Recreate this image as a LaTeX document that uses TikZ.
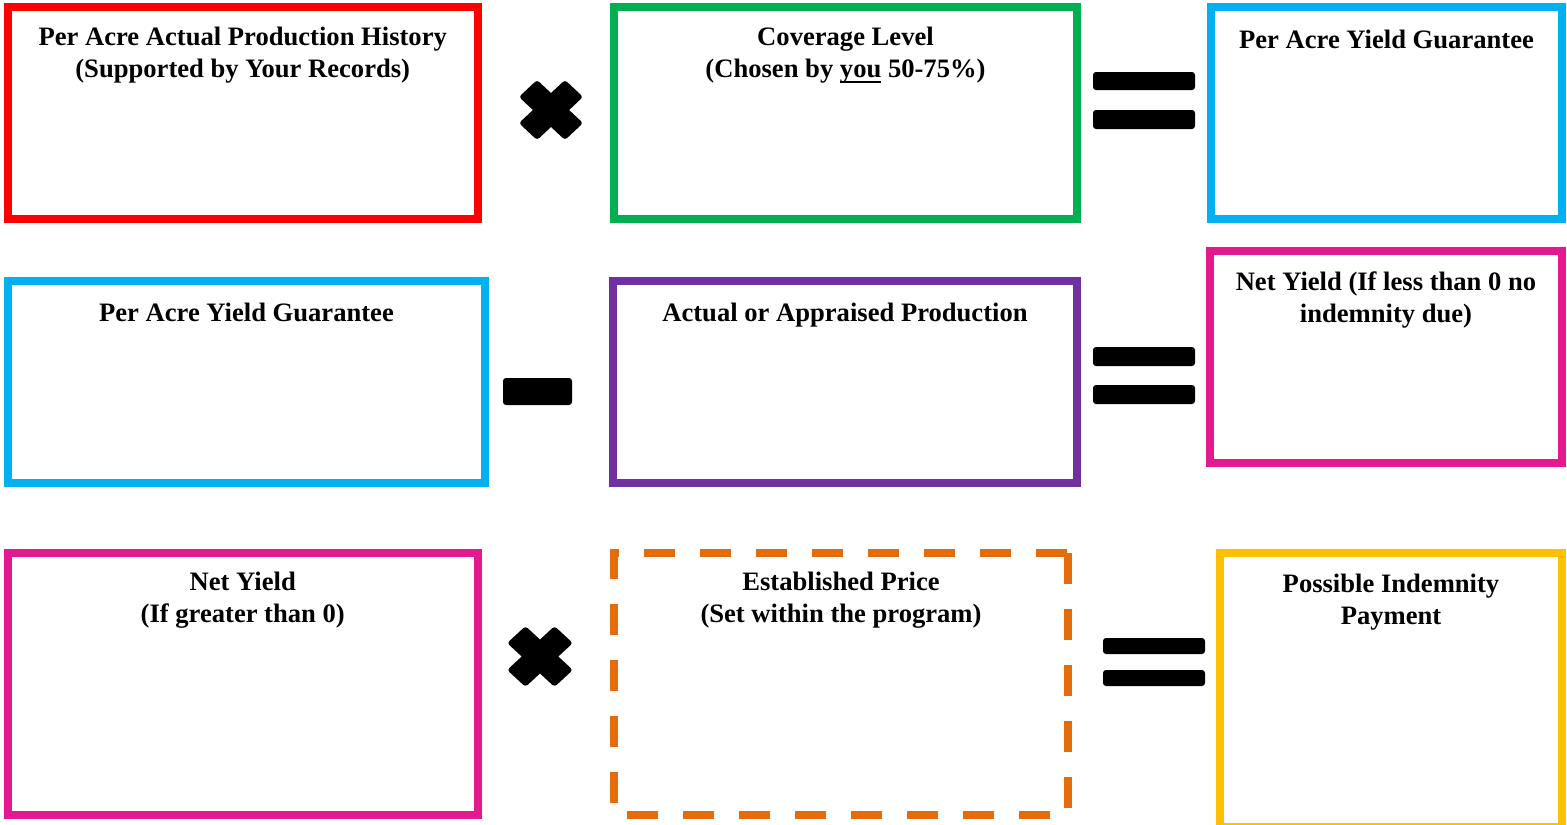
\documentclass[tikz,border=0pt]{standalone}
\usepackage{fontspec}
\setmainfont{Liberation Serif}
\definecolor{cred}{HTML}{FF0000}
\definecolor{cgreen}{HTML}{00B050}
\definecolor{ccyan}{HTML}{00B0F0}
\definecolor{cpurple}{HTML}{7030A0}
\definecolor{cmagenta}{HTML}{E2198F}
\definecolor{corange}{HTML}{E46C0A}
\definecolor{cyellow}{HTML}{FFC000}
\newcommand\ulword[1]{\setbox0=\hbox{#1}\rlap{\vrule width\wd0 height -4pt depth 6pt}\box0\relax}
\begin{document}
\begin{tikzpicture}[x=1pt,y=-1pt,
  box/.style={draw, line width=8pt, inner sep=0pt, outer sep=0pt, anchor=center},
  txt/.style={font=\bfseries\fontsize{26.6pt}{32pt}\selectfont, align=center, anchor=north, inner sep=0pt},
  bar/.style={fill=black, rounded corners=3pt}]
\useasboundingbox (0,0) rectangle (1567,825);
% row 1
\node[box, draw=cred, minimum width=470.5pt, minimum height=212pt] (b1) at (242.75,113) {};
\node[txt] (t1) at ([yshift=-19.5pt]b1.north) {Per Acre Actual Production History\\(Supported by Your Records)};
\node[box, draw=cgreen, minimum width=463pt, minimum height=212pt] (b2) at (845.5,113) {};
\node[txt] (t2) at ([yshift=-19.5pt]b2.north) {Coverage Level\\(Chosen by \ulword{you} 50-75\%)};
\node[box, draw=ccyan, minimum width=351pt, minimum height=212pt] (b3) at (1386.5,113) {};
\node[txt] (t3) at ([yshift=-22.5pt]b3.north) {Per Acre Yield Guarantee};
% row 2
\node[box, draw=ccyan, minimum width=477pt, minimum height=202pt] (b4) at (246.5,382) {};
\node[txt] (t4) at ([yshift=-21.5pt]b4.north) {Per Acre Yield Guarantee};
\node[box, draw=cpurple, minimum width=464pt, minimum height=202pt] (b5) at (845,382) {};
\node[txt] (t5) at ([yshift=-21.5pt]b5.north) {Actual or Appraised Production};
\node[box, draw=cmagenta, minimum width=352pt, minimum height=212pt] (b6) at (1386,357) {};
\node[txt] (t6) at ([yshift=-20.5pt]b6.north) {Net Yield (If less than 0 no\\indemnity due)};
% row 3
\node[box, draw=cmagenta, minimum width=470.5pt, minimum height=262pt] (b7) at (242.75,684) {};
\node[txt] (t7) at ([yshift=-18.5pt]b7.north) {Net Yield\\(If greater than 0)};
\node[box, draw=none, minimum width=454pt, minimum height=262pt] (b8) at (841,684) {};
\draw[corange, line width=8pt, dash pattern=on 31pt off 25pt]
  (b8.north east) -- (b8.south east) -- (b8.south west) -- (b8.north west) -- cycle;
\node[txt] (t8) at ([yshift=-18.5pt]b8.north) {Established Price\\(Set within the program)};
\node[box, draw=cyellow, minimum width=342pt, minimum height=274pt] (b9) at (1391,690) {};
\node[txt] (t9) at ([yshift=-20.5pt]b9.north) {Possible Indemnity\\Payment};
% operators
\begin{scope}[shift={(551,110)}, xscale=1.067]
  \fill[rounded corners=3pt, rotate=45] (-30.5,-12) rectangle (30.5,12);
  \fill[rounded corners=3pt, rotate=-45] (-30.5,-12) rectangle (30.5,12);
\end{scope}
\begin{scope}[shift={(540,656.5)}, xscale=1.08]
  \fill[rounded corners=3pt, rotate=45] (-31,-12) rectangle (31,12);
  \fill[rounded corners=3pt, rotate=-45] (-31,-12) rectangle (31,12);
\end{scope}
\fill[bar] (1093,72) rectangle (1195,90);
\fill[bar] (1093,110) rectangle (1195,129);
\fill[bar] (503,378) rectangle (572,405);
\fill[bar] (1093,347) rectangle (1195,366);
\fill[bar] (1093,385) rectangle (1195,404);
\fill[bar] (1103,638) rectangle (1205,654);
\fill[bar] (1103,670) rectangle (1205,686);
\end{tikzpicture}
\end{document}
